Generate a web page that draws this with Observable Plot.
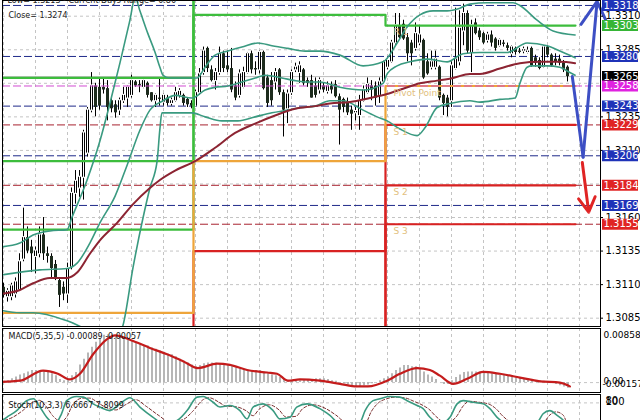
<!DOCTYPE html>
<html><head><meta charset="utf-8">
<script src="https://cdn.jsdelivr.net/npm/d3@7"></script>
<script src="https://cdn.jsdelivr.net/npm/@observablehq/plot@0.6"></script>
<style>
html,body{margin:0;padding:0;background:#fff;overflow:hidden;width:640px;height:420px}
#chart svg{display:block}
</style></head><body><div id="chart"></div>
<script>
// ---------- candles (30-min bars) ----------
const O = [1.3108,1.3101,1.3101,1.3103,1.3106,1.3129,1.3145,1.3138,1.3131,1.3133,
1.3147,1.3133,1.3131,1.3125,1.3113,1.3108,1.3103,1.3123,1.3178,1.3182,
1.3190,1.3208,1.3240,1.3258,1.3257,1.3257,1.3256,1.3247,1.3244,1.3240,
1.3247,1.3249,1.3251,1.3261,1.3259,1.3257,1.3260,1.3253,1.3247,1.3249,
1.3246,1.3249,1.3245,1.3247,1.3251,1.3251,1.3248,1.3245,1.3243,1.3253,
1.3268,1.3286,1.3270,1.3262,1.3268,1.3282,1.3273,1.3271,1.3258,1.3251,
1.3257,1.3268,1.3282,1.3271,1.3270,1.3283,1.3264,1.3262,1.3261,1.3270,
1.3253,1.3241,1.3253,1.3270,1.3268,1.3270,1.3262,1.3262,1.3258,1.3255,
1.3258,1.3254,1.3258,1.3259,1.3250,1.3248,1.3246,1.3240,1.3238,1.3236,
1.3247,1.3253,1.3258,1.3258,1.3251,1.3261,1.3272,1.3276,1.3290,1.3303,
1.3304,1.3294,1.3290,1.3286,1.3290,1.3292,1.3276,1.3272,1.3272,1.3272,
1.3251,1.3249,1.3247,1.3271,1.3276,1.3299,1.3312,1.3283,1.3305,1.3299,
1.3297,1.3292,1.3296,1.3293,1.3288,1.3290,1.3288,1.3282,1.3286,1.3284,
1.3284,1.3283,1.3286,1.3279,1.3277,1.3272,1.3287,1.3281,1.3278,1.3278,
1.3275,1.3272];
const C = [1.3102,1.3105,1.3109,1.3112,1.3127,1.3145,1.3135,1.3133,1.3135,1.3147,
1.3133,1.3131,1.3122,1.3115,1.3102,1.3103,1.3122,1.3178,1.3187,1.3190,
1.3223,1.3240,1.3258,1.3242,1.3243,1.3255,1.3242,1.3241,1.3238,1.3247,
1.3251,1.3257,1.3262,1.3258,1.3258,1.3262,1.3251,1.3247,1.3251,1.3248,
1.3251,1.3245,1.3247,1.3253,1.3254,1.3245,1.3244,1.3243,1.3253,1.3267,
1.3284,1.3271,1.3262,1.3268,1.3282,1.3271,1.3270,1.3255,1.3249,1.3267,
1.3268,1.3282,1.3270,1.3270,1.3283,1.3256,1.3245,1.3247,1.3268,1.3253,
1.3240,1.3252,1.3268,1.3272,1.3273,1.3260,1.3260,1.3249,1.3251,1.3262,
1.3255,1.3258,1.3255,1.3250,1.3240,1.3242,1.3238,1.3237,1.3239,1.3247,
1.3255,1.3259,1.3255,1.3249,1.3261,1.3276,1.3277,1.3290,1.3303,1.3294,
1.3293,1.3282,1.3282,1.3297,1.3296,1.3264,1.3267,1.3276,1.3278,1.3249,
1.3245,1.3242,1.3273,1.3278,1.3301,1.3312,1.3284,1.3303,1.3297,1.3294,
1.3290,1.3296,1.3290,1.3286,1.3292,1.3289,1.3286,1.3287,1.3283,1.3283,
1.3285,1.3284,1.3273,1.3275,1.3271,1.3287,1.3281,1.3273,1.3276,1.3275,
1.3270,1.3265];
const H = [1.3111,1.3107,1.3111,1.3115,1.3133,1.3167,1.3153,1.3143,1.3138,1.3153,
1.3160,1.3138,1.3133,1.3128,1.3115,1.3112,1.3126,1.3182,1.3195,1.3195,
1.3225,1.3242,1.3268,1.3260,1.3264,1.3264,1.3262,1.3249,1.3247,1.3249,
1.3257,1.3258,1.3266,1.3262,1.3262,1.3264,1.3261,1.3253,1.3252,1.3264,
1.3252,1.3251,1.3249,1.3257,1.3256,1.3252,1.3249,1.3247,1.3255,1.3271,
1.3287,1.3287,1.3273,1.3271,1.3287,1.3284,1.3284,1.3286,1.3261,1.3270,
1.3272,1.3283,1.3284,1.3276,1.3284,1.3284,1.3266,1.3268,1.3271,1.3271,
1.3255,1.3255,1.3270,1.3275,1.3276,1.3271,1.3264,1.3266,1.3264,1.3264,
1.3260,1.3261,1.3261,1.3262,1.3252,1.3249,1.3249,1.3243,1.3242,1.3251,
1.3258,1.3264,1.3262,1.3261,1.3264,1.3277,1.3278,1.3292,1.3312,1.3312,
1.3307,1.3297,1.3292,1.3305,1.3303,1.3293,1.3282,1.3284,1.3284,1.3273,
1.3252,1.3251,1.3276,1.3316,1.3314,1.3319,1.3314,1.3307,1.3308,1.3301,
1.3298,1.3298,1.3299,1.3294,1.3293,1.3292,1.3290,1.3288,1.3287,1.3286,
1.3287,1.3287,1.3287,1.3281,1.3279,1.3288,1.3288,1.3282,1.3282,1.3281,
1.3277,1.3273];
const L = [1.3100,1.3097,1.3098,1.3100,1.3105,1.3127,1.3133,1.3119,1.3118,1.3130,
1.3128,1.3126,1.3115,1.3113,1.3093,1.3098,1.3096,1.3121,1.3170,1.3175,
1.3173,1.3205,1.3238,1.3235,1.3240,1.3252,1.3232,1.3238,1.3234,1.3236,
1.3245,1.3242,1.3249,1.3257,1.3253,1.3256,1.3249,1.3246,1.3242,1.3243,
1.3243,1.3243,1.3243,1.3246,1.3249,1.3243,1.3242,1.3241,1.3242,1.3251,
1.3266,1.3268,1.3261,1.3255,1.3266,1.3268,1.3268,1.3253,1.3247,1.3249,
1.3256,1.3267,1.3267,1.3266,1.3267,1.3255,1.3242,1.3243,1.3255,1.3251,
1.3220,1.3230,1.3251,1.3268,1.3260,1.3258,1.3257,1.3249,1.3249,1.3252,
1.3253,1.3252,1.3252,1.3249,1.3214,1.3238,1.3236,1.3225,1.3232,1.3225,
1.3246,1.3252,1.3247,1.3243,1.3245,1.3260,1.3270,1.3275,1.3288,1.3293,
1.3292,1.3276,1.3273,1.3284,1.3288,1.3263,1.3266,1.3270,1.3270,1.3247,
1.3236,1.3235,1.3242,1.3270,1.3273,1.3288,1.3282,1.3268,1.3296,1.3292,
1.3289,1.3290,1.3287,1.3284,1.3287,1.3287,1.3284,1.3279,1.3281,1.3282,
1.3282,1.3282,1.3272,1.3272,1.3270,1.3271,1.3279,1.3272,1.3273,1.3273,
1.3268,1.3261];

// ---------- Bollinger bands & moving average (bar index, price) ----------
const bbUpI = [-0.9,4.1,7.4,11.6,15.9,17.1,20.9,24.1,26.6,29.1,31.6,32.9,34.1,36.1,37.9,39.1,39.9,41.6,47.1,48.4,50.4,52.9,56.1,59.6,63.6,67.1,71.1,75.4,79.1,84.1,89.9,94.9,98.4,100.9,104.1,107.4,110.9,114.1,116.6,120.9,127.4,129.1,133.4,137.4,142.9];
const bbUpP = [1.3138,1.3141,1.3147,1.3150,1.3151,1.3160,1.3188,1.3217,1.3245,1.3275,1.3307,1.3324,1.3314,1.3297,1.3283,1.3272,1.3266,1.3264,1.3264,1.3264,1.3272,1.3281,1.3284,1.3287,1.3290,1.3288,1.3286,1.3284,1.3284,1.3281,1.3273,1.3276,1.3290,1.3302,1.3311,1.3314,1.3314,1.3316,1.3319,1.3320,1.3320,1.3318,1.3307,1.3299,1.3296];
const bbMidI = [-0.9,9.1,15.9,18.4,21.6,24.1,27.9,30.9,34.1,36.6,39.9,42.9,47.1,50.4,52.9,56.1,59.6,62.9,65.4,69.6,72.9,76.1,79.1,84.1,89.9,94.9,95.9,98.4,101.6,105.9,110.9,114.9,119.1,125.9,130.9,135.9,139.1,142.9];
const bbMidP = [1.3117,1.3121,1.3122,1.3126,1.3141,1.3156,1.3176,1.3199,1.3225,1.3240,1.3247,1.3251,1.3249,1.3255,1.3257,1.3258,1.3261,1.3264,1.3266,1.3264,1.3262,1.3261,1.3261,1.3257,1.3255,1.3260,1.3267,1.3273,1.3276,1.3278,1.3276,1.3282,1.3283,1.3283,1.3290,1.3288,1.3284,1.3279];
const bbLoI = [-0.9,4.1,7.4,15.9,24.1,27.9,29.9,32.4,34.9,36.6,38.4,39.1,39.6,47.1,50.4,54.6,58.6,62.9,67.1,71.1,74.6,77.9,81.6,84.9,89.9,93.4,95.9,99.1,103.4,105.4,108.4,111.6,116.6,119.1,124.1,127.9,129.1,130.9,132.1,135.9,139.1,141.6,142.9];
const bbLoP = [1.3091,1.3089,1.3089,1.3083,1.3072,1.3068,1.3080,1.3123,1.3160,1.3182,1.3202,1.3226,1.3238,1.3238,1.3235,1.3232,1.3232,1.3235,1.3238,1.3240,1.3242,1.3243,1.3247,1.3247,1.3240,1.3235,1.3232,1.3226,1.3221,1.3227,1.3242,1.3245,1.3247,1.3246,1.3248,1.3249,1.3260,1.3272,1.3273,1.3273,1.3272,1.3268,1.3266];
const maI = [-0.9,4.1,7.4,11.6,15.9,18.4,21.6,24.1,28.4,32.4,36.6,39.1,42.9,47.9,52.9,57.9,62.9,67.9,72.9,77.9,81.6,86.6,91.6,95.9,99.9,104.1,108.4,112.4,116.6,119.1,124.1,129.1,134.1,139.1,142.9];
const maP = [1.3103,1.3106,1.3111,1.3115,1.3115,1.3119,1.3133,1.3143,1.3156,1.3170,1.3182,1.3188,1.3195,1.3202,1.3212,1.3223,1.3230,1.3236,1.3241,1.3243,1.3245,1.3246,1.3249,1.3252,1.3256,1.3260,1.3262,1.3264,1.3267,1.3267,1.3271,1.3275,1.3276,1.3276,1.3275];

// ---------- daily pivot levels (3 days) ----------
const dayBounds = [-1, 47.5, 95.5, 143];
const R3 = [1.3264, 1.3487, 1.3377];
const R2 = [1.3202, 1.3378, 1.3332];
const R1 = [1.3151, 1.3311, 1.3303];
const PP = [1.3089, 1.3202, 1.3258];
const S1 = [1.3038, 1.3135, 1.3229];
const S2 = [1.2976, 1.3026, 1.3184];
const S3 = [1.2925, 1.2959, 1.3155];
const pivotLabels = ["R 1", "Pivot Point", "S 1", "S 2", "S 3"];
const pivotLabelPrices = [1.3303, 1.3258, 1.3229, 1.3184, 1.3155];

// ---------- horizontal objects & right-axis tags ----------
const navyLevels = [1.3318, 1.3280, 1.3243, 1.3206, 1.3169];
const redLevels = [1.3229, 1.3184, 1.3155];
const magentaLevel = 1.3258;
const bidLevel = 1.3265;
const tagPrices = [1.3318, 1.3303, 1.3280, 1.3265, 1.3258, 1.3243, 1.3229, 1.3206, 1.3184, 1.3169, 1.3155];
const tagKinds = ["target","resistance","target","bid","pivot","target","support","target","support","target","support"];
const priceTicks = [1.3085, 1.3110, 1.3135, 1.3160, 1.3185, 1.3210, 1.3235, 1.3260, 1.3285, 1.3310];
const gridBars = [0,8,16,24,32,40,48,56,64,72,80,88,96,104,112,120,128,136,144];

// ---------- forecast arrows ----------
const blueI = [142.2, 144.9, 148.4];
const blueP = [1.3265, 1.3205, 1.3321];
const redArrI = [144.7, 146.3];
const redArrP = [1.3201, 1.3164];

// ---------- MACD(5,35,5) ----------
const macdMain = [0.0002,0.0003,0.0006,0.0009,0.0012,0.0014,0.0017,0.0019,0.0019,0.0019,
0.0019,0.0017,0.0014,0.0011,0.0005,0.0003,0.0005,0.0011,0.0016,0.0028,
0.0037,0.0047,0.0056,0.0064,0.0070,0.0075,0.0076,0.0076,0.0073,0.0072,
0.0069,0.0067,0.0066,0.0064,0.0062,0.0059,0.0058,0.0055,0.0053,0.0050,
0.0048,0.0045,0.0044,0.0041,0.0037,0.0034,0.0031,0.0028,0.0025,0.0027,
0.0030,0.0031,0.0031,0.0031,0.0030,0.0030,0.0028,0.0027,0.0023,0.0022,
0.0020,0.0019,0.0019,0.0019,0.0019,0.0017,0.0014,0.0012,0.0011,0.0008,
0.0005,0.0002,0.0002,0.0003,0.0003,0.0005,0.0005,0.0005,0.0006,0.0006,
0.0006,0.0005,0.0003,0.0002,0.0000,-0.0002,-0.0004,-0.0006,-0.0007,-0.0006,
-0.0005,-0.0004,-0.0002,0.0000,0.0003,0.0006,0.0009,0.0014,0.0019,0.0023,
0.0027,0.0027,0.0025,0.0025,0.0022,0.0017,0.0012,0.0009,0.0005,0.0000,
-0.0003,-0.0003,0.0003,0.0008,0.0012,0.0016,0.0017,0.0017,0.0017,0.0017,
0.0016,0.0016,0.0014,0.0014,0.0012,0.0012,0.0011,0.0009,0.0009,0.0008,
0.0006,0.0006,0.0005,0.0003,0.0003,0.0002,0.0001,-0.0001,-0.0003,-0.0005,
-0.0007,-0.0009];
const sigI = [-0.9,4.1,9.9,13.6,16.6,19.1,22.4,25.9,27.9,32.4,36.6,40.9,44.9,48.6,53.4,56.6,60.9,65.9,68.4,71.1,74.1,79.1,84.1,88.4,91.1,95.9,99.1,103.4,106.6,109.1,112.4,115.9,119.9,124.1,129.1,134.1,139.1,141.6];
const sigV = [0.0001,0.0003,0.0019,0.0014,0.0005,0.0014,0.0045,0.0069,0.0075,0.0066,0.0055,0.0045,0.0034,0.0023,0.0030,0.0028,0.0020,0.0016,0.0014,0.0003,0.0005,0.0003,-0.0002,-0.0006,-0.0006,0.0003,0.0014,0.0023,0.0020,0.0011,-0.0002,0.0006,0.0017,0.0014,0.0008,0.0002,0.0000,-0.0006];
const macdRange = [-0.00157, 0.00858];

// ---------- Stochastic(10,3,3) ----------
const stI = [-0.9,0.8,3.3,5.8,7.5,9.1,10.8,12.9,14.5,15.8,18.3,20,22.4,24.1,26.6,29.1,31.6,34.1,37.4,40,43.4,45.9,48.4,49.9,52.4,54.1,56.6,59.1,60.9,62.4,64.9,67.4,69.1,71.6,73.3,75.9,79.1,81.6,84.1,89.1,90.4,92.4,94.1,96.6,99.1,100.9,103.4,104.9,106.6,109.1,111.6,113.4,114.9,117.4,119.9,121.6,123.4,125.9,133.4,134.9,136.6,138.4,140,141];
const stV = [20,35,56,87,93,67,35,15,46,87,100,98,77,67,56,77,96,67,35,15,25,56,98,100,82,67,72,56,30,67,77,56,30,35,67,77,62,41,15,20,56,87,93,100,98,87,72,62,35,15,35,77,87,82,77,62,35,15,20,46,56,41,25,6.6667];
const sgI = [-0.9,2.3,4.8,7.3,9,10.6,12.3,14.4,16,17.3,19.8,21.5,23.9,25.6,28.1,30.6,33.1,35.6,38.9,41.5,44.9,47.4,49.9,51.4,53.9,55.6,58.1,60.6,62.4,63.9,66.4,68.9,70.6,73.1,74.8,77.4,80.6,83.1,85.6,90.6,91.9,93.9,95.6,98.1,100.6,102.4,104.9,106.4,108.1,110.6,113.1,114.9,116.4,118.9,121.4,123.1,124.9,127.4,134.9,136.4,138.1,139.9,141];
const sgV = [22,35,56,82,88,70,40,22,40,75,95,95,78,66,58,75,90,70,40,20,28,55,90,96,82,70,68,56,40,60,74,58,36,38,62,74,62,42,20,20,52,82,92,98,95,86,72,60,38,18,35,70,85,82,76,62,38,18,18,40,52,42,7.8099];
const stochLevels = [80, 20];

// ================= drawing =================
const FONT = "'DejaVu Sans', sans-serif";
const base = {
  width: 640, marginLeft: 2, marginRight: 40,
  x: {domain: [-0.25, 149.25], axis: null},
  style: {fontFamily: FONT, fontSize: "10px", background: "#fff", color: "#000"}
};
const GRID = {stroke: "#c4c4c4", strokeDasharray: "3,3"};
const TEAL = "#3a9a80";

const candles = O.map((o, i) => ({i, o, c: C[i], h: H[i], l: L[i]}));
const series = (name, xs, ys) => xs.map((x, k) => ({name, x, y: ys[k]}));
const bands = [...series("up", bbUpI, bbUpP), ...series("mid", bbMidI, bbMidP), ...series("lo", bbLoI, bbLoP)];
const ma = series("ma", maI, maP);
const levelNames = ["R3","R2","R1","S1","S2","S3","PP"];
const levelVals = {R3, R2, R1, PP, S1, S2, S3};
const pivotPts = levelNames.flatMap(n => {
  const v = levelVals[n];
  return [0,1,2,3].map(k => ({n, x: dayBounds[k], y: v[Math.min(k, 2)]}));
});
const pivotColor = n => n === "PP" ? "#eea53a" : n[0] === "R" ? "#3dbd3d" : "#d82222";
const tagColors = {target: "#1f33b8", resistance: "#36b536", bid: "#000000", pivot: "#e022e0", support: "#e02424"};
const tags = tagPrices.map((p, k) => ({p, kind: tagKinds[k]}));
// tick labels that sit entirely under a coloured tag are not drawn (they are hidden in the original)
const axisTicks = priceTicks.filter(t => !tagPrices.some(p => Math.abs(p - t) < 0.0003));
const pivotText = pivotLabels.map((t, k) => ({t, p: pivotLabelPrices[k]}));
const blue = series("blue", blueI, blueP);

const main = Plot.plot({
  ...base, height: 327, marginTop: 0, marginBottom: 1,
  y: {domain: [1.30788, 1.33217], axis: null},
  marks: [
    Plot.ruleX(gridBars, GRID),
    Plot.ruleY(priceTicks, GRID),
    Plot.ruleY(navyLevels, {stroke: "#1f2a8a", strokeDasharray: "8,3"}),
    Plot.ruleY(redLevels, {stroke: "#a82330", strokeDasharray: "8,3"}),
    Plot.ruleY([bidLevel], {stroke: "#bdbdbd"}),
    Plot.ruleX(candles, {x: "i", y1: "l", y2: "h", stroke: "#000", strokeWidth: 1}),
    Plot.ruleX(candles, {x: "i", y1: "o", y2: "c", stroke: d => d.c >= d.o ? "#000" : "#1d2b1d", strokeWidth: 3}),
    Plot.ruleX(candles.filter(d => d.c > d.o), {x: "i", y1: "o", y2: "c", stroke: "#fff", strokeWidth: 1, insetTop: 1, insetBottom: 1}),
    Plot.line(pivotPts, {x: "x", y: "y", z: "n", stroke: d => pivotColor(d.n), strokeWidth: 2.2, curve: "step-after", clip: true}),
    Plot.ruleY([magentaLevel], {stroke: "#d24cd2", strokeDasharray: "8,3"}),
    Plot.line(bands, {x: "x", y: "y", z: "name", stroke: TEAL, strokeWidth: 1.6, curve: "monotone-x", clip: true}),
    Plot.line(ma, {x: "x", y: "y", stroke: "#8c2432", strokeWidth: 2, curve: "monotone-x", clip: true}),
    Plot.text(pivotText, {x: 97.5, y: "p", text: "t", dy: 7, textAnchor: "start", fill: "#e2bf7e", fontSize: 9}),
    Plot.line(blue.slice(0, 2), {x: "x", y: "y", stroke: "#3d4fc4", strokeWidth: 3}),
    Plot.arrow([0], {x1: blueI[1], y1: blueP[1], x2: blueI[2], y2: blueP[2], stroke: "#3d4fc4", strokeWidth: 3, headLength: 14}),
    Plot.arrow([0], {x1: redArrI[0], y1: redArrP[0], x2: redArrI[1], y2: redArrP[1], stroke: "#e02424", strokeWidth: 3, headLength: 12}),
    Plot.frame({stroke: "#000"}),
    Plot.axisY(axisTicks, {anchor: "right", tickSize: 2, tickPadding: 3, tickFormat: d => d.toFixed(4), label: null, fontSize: 10}),
    Plot.ruleY(tags, {y: "p", x1: 149.75, x2: 158.75, stroke: d => tagColors[d.kind], strokeWidth: 11}),
    Plot.text(tags, {x: 149.75, y: "p", text: d => d.p.toFixed(4), fill: "#fff", textAnchor: "start", dx: 1, fontSize: 10}),
    Plot.text(["Low= 1.3213 - Current Days Range= 0.86"], {frameAnchor: "top-left", dx: 5, dy: 0, lineAnchor: "middle", textAnchor: "start", fontSize: 8, fill: "#222"}),
    Plot.text(["Close= 1.3274"], {frameAnchor: "top-left", dx: 6, dy: 15, lineAnchor: "middle", textAnchor: "start", fontSize: 8, fill: "#222"})
  ]
});

const macd = macdMain.map((v, i) => ({i, v}));
const macdPlot = Plot.plot({
  ...base, height: 66, marginTop: 1, marginBottom: 1,
  y: {domain: macdRange, axis: null},
  marks: [
    Plot.ruleX(gridBars, GRID),
    Plot.ruleY([0], GRID),
    Plot.ruleX(macd, {x: "i", y1: 0, y2: "v", stroke: "#b6b6b6", strokeWidth: 2, dx: 0.5}),
    Plot.line(series("sig", sigI, sigV), {x: "x", y: "y", stroke: "#c41c1c", strokeWidth: 2.2, curve: "monotone-x", clip: true}),
    Plot.frame({stroke: "#000"}),
    Plot.text(["MACD(5,35,5) -0.00089 -0.00057"], {frameAnchor: "top-left", dx: 6, dy: 8, lineAnchor: "middle", textAnchor: "start", fontSize: 8, fill: "#111"}),
    Plot.text([macdRange[1]], {x: 149.75, y: d => d, text: d => d.toFixed(5), dx: 1, dy: 7, textAnchor: "start", fontSize: 9}),
    Plot.text([0], {x: 149.75, y: d => d, text: () => "0.00", dx: 1, dy: -1, textAnchor: "start", fontSize: 9}),
    Plot.text([macdRange[0]], {x: 149.75, y: d => d, text: d => d.toFixed(5), dx: 0, dy: -8, textAnchor: "start", fontSize: 9})
  ]
});

const stochPlot = Plot.plot({
  ...base, height: 40, marginTop: 1, marginBottom: 0,
  y: {domain: [-15.625, 106.25], axis: null},
  marks: [
    Plot.ruleX(gridBars, GRID),
    Plot.ruleY(stochLevels, GRID),
    Plot.line(series("sg", sgI, sgV), {x: "x", y: "y", stroke: "#7a2e2e", strokeWidth: 1, strokeDasharray: "3,2", curve: "monotone-x", clip: true}),
    Plot.line(series("st", stI, stV), {x: "x", y: "y", stroke: TEAL, strokeWidth: 1.6, curve: "monotone-x", clip: true}),
    Plot.frame({stroke: "#000"}),
    Plot.text(["Stoch(10,3,3) 6.6667 7.8099"], {frameAnchor: "top-left", dx: 6, dy: 11, lineAnchor: "middle", textAnchor: "start", fontSize: 8, fill: "#111"}),
    Plot.text([100], {x: 149.75, y: d => d, text: d => String(d), dx: 3, dy: 5, textAnchor: "start", fontSize: 10}),
    Plot.text([stochLevels[0]], {x: 149.75, y: d => d, text: d => String(d), dx: 3, dy: -2, textAnchor: "start", fontSize: 10})
  ]
});

const root = document.getElementById("chart");
root.append(main, macdPlot, stochPlot);
</script></body></html>
